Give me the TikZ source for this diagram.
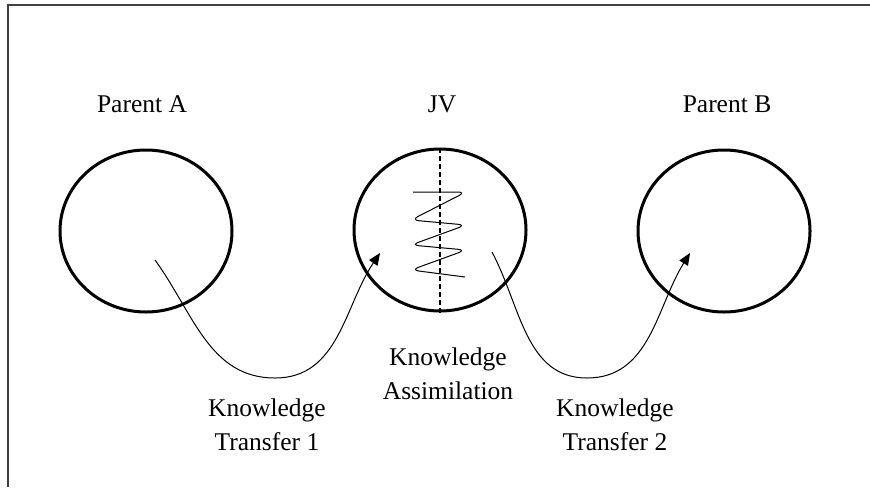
\documentclass[tikz,border=0pt]{standalone}
\usepackage{fontspec}
\setmainfont{Liberation Serif}
\usetikzlibrary{shapes.geometric,arrows.meta,positioning}

\begin{document}
\begin{tikzpicture}[
    x=0.5pt, y=0.5pt,
    party/.style={ellipse, draw, line width=1.5pt, minimum width=86pt, minimum height=81pt, inner sep=0pt},
    lbl/.style={font=\fontsize{12.75}{17}\selectfont, align=center, inner sep=0pt},
    arrow/.style={-{Triangle[length=6pt,width=5pt]}, line width=0.5pt}
]
\useasboundingbox (0,0) rectangle (870,-487);

% Frame
\draw[line width=0.75pt, black!75] (8,-487) -- (8,-5) -- (870,-5);

% Parents and JV
\node[party] (pa) at (146,-231) {};
\node[party] (jv) at (440,-230) {};
\node[party] (pb) at (724,-231) {};

% Names
\node[lbl, anchor=base] (paname) at (142,-112) {Parent A};
\node[lbl, anchor=base] (jvname) at (442,-112) {JV};
\node[lbl, anchor=base] (pbname) at (727,-112) {Parent B};

% Assimilation inside the JV
\draw[line width=1pt, dash pattern=on 2.5pt off 1.5pt] (jv.north) -- (jv.south);
\draw[line width=0.5pt, rounded corners=4pt] (413,-192) -- (466,-192) -- (411,-220) -- (466,-225)
    -- (411,-245) -- (466,-250) -- (411,-270) -- (465,-277);

% Transfers
\coordinate (t1s) at (155,-260);
\coordinate (t1m) at (275,-378);
\coordinate (t1e) at (380,-253);
\coordinate (t2s) at (492,-252);
\coordinate (t2m) at (587,-378);
\coordinate (t2e) at (690,-253);
\draw[arrow] (t1s) to[out=-54,in=180] (t1m) to[out=0,in=-124] (t1e);
\draw[arrow] (t2s) to[out=-62,in=180] (t2m) to[out=0,in=-122] (t2e);

% Labels (base = last line)
\node[lbl, anchor=base] (assim) at (448,-399) {Knowledge\\Assimilation};
\node[lbl, anchor=base] (tr1) at (267,-450) {Knowledge\\Transfer 1};
\node[lbl, anchor=base] (tr2) at (615,-450) {Knowledge\\Transfer 2};

\end{tikzpicture}
\end{document}
